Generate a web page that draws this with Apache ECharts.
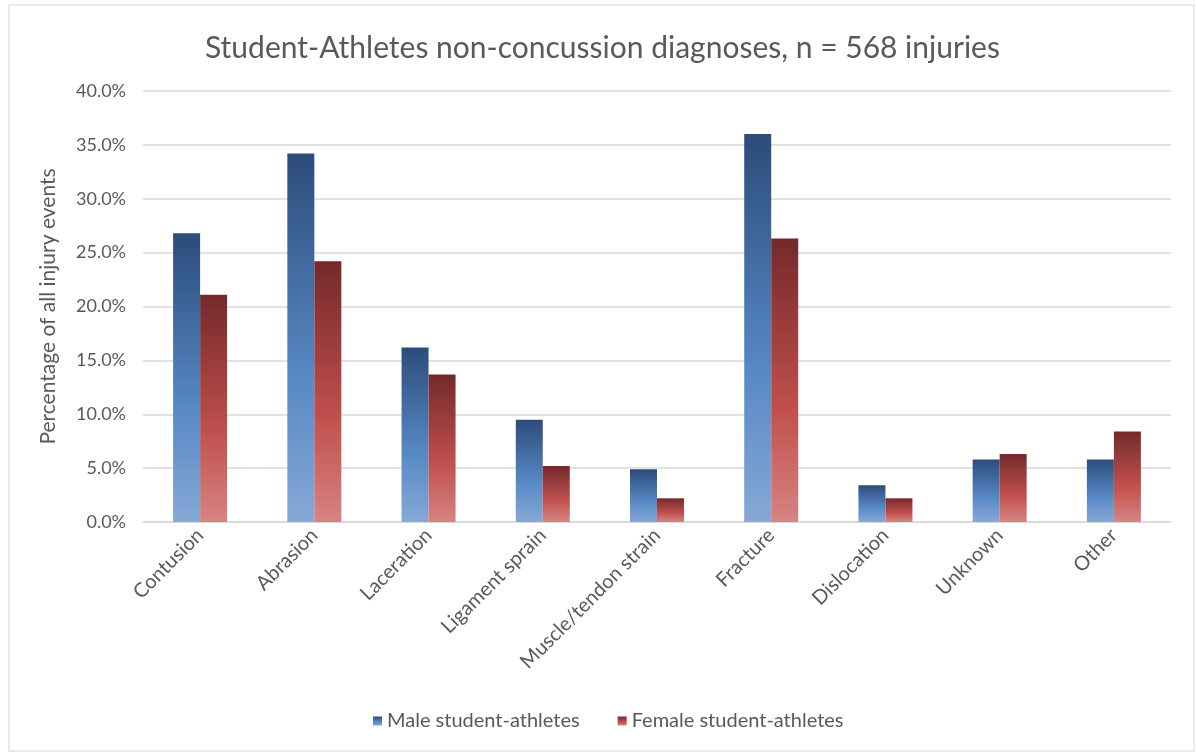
<!DOCTYPE html>
<html>
<head>
<meta charset="utf-8">
<script src="https://cdn.jsdelivr.net/npm/echarts@6/dist/echarts.min.js"></script>
<style>
  html, body { margin: 0; padding: 0; background: #ffffff; }
  #chart { width: 1196px; height: 753px; }
</style>
</head>
<body>
<div id="chart"></div>
<script>
// Injury diagnoses by category, share of all injury events (%)
const categories = ['Contusion', 'Abrasion', 'Laceration', 'Ligament sprain', 'Muscle/tendon strain',
                    'Fracture', 'Dislocation', 'Unknown', 'Other'];
const maleValues   = [26.8, 34.2, 16.2, 9.5, 4.9, 36.0, 3.4, 5.8, 5.8];
const femaleValues = [21.1, 24.2, 13.7, 5.2, 2.2, 26.3, 2.2, 6.3, 8.4];
const seriesNames  = ['Male student-athletes', 'Female student-athletes'];
const yTicks = { min: 0, max: 40, interval: 5 };

const FONT = 'Lato, "Open Sans", "Liberation Sans", sans-serif';
const TEXT = '#595959';

function grad(top, mid, bottom) {
  return new echarts.graphic.LinearGradient(0, 0, 0, 1, [
    { offset: 0, color: top },
    { offset: 0.6, color: mid },
    { offset: 1, color: bottom }
  ]);
}

const chart = echarts.init(document.getElementById('chart'), null, { renderer: 'canvas' });

chart.setOption({
  backgroundColor: '#ffffff',
  animation: false,
  title: {
    text: 'Student-Athletes non-concussion diagnoses, n = 568 injuries',
    left: 200,
    top: 28,
    textStyle: { fontFamily: FONT, fontSize: 30, fontWeight: 'normal', color: TEXT }
  },
  graphic: [{
    type: 'rect',
    shape: { x: 9, y: 5, width: 1185, height: 746 },
    style: { fill: 'none', stroke: '#e3e3e3', lineWidth: 1.5 },
    silent: true
  }],
  legend: {
    top: 706,
    left: 368,
    itemWidth: 9,
    itemHeight: 9,
    itemGap: 38,
    icon: 'rect',
    textStyle: { fontFamily: FONT, fontSize: 20, color: TEXT },
    data: seriesNames
  },
  grid: { left: 143, right: 25, top: 91, bottom: 231, containLabel: false },
  xAxis: {
    type: 'category',
    data: categories,
    axisLine: { show: true, lineStyle: { color: '#d9d9d9', width: 1.5 } },
    axisTick: { show: false },
    axisLabel: {
      rotate: 45, interval: 0, margin: 10,
      fontFamily: FONT, fontSize: 20, color: TEXT
    }
  },
  yAxis: {
    type: 'value',
    min: yTicks.min, max: yTicks.max, interval: yTicks.interval,
    name: 'Percentage of all injury events',
    nameLocation: 'middle',
    nameGap: 84,
    nameTextStyle: { fontFamily: FONT, fontSize: 21, color: TEXT },
    axisLine: { show: false },
    axisTick: { show: false },
    axisLabel: {
      margin: 17,
      fontFamily: FONT, fontSize: 18, color: TEXT,
      formatter: v => v.toFixed(1) + '%'
    },
    splitLine: { lineStyle: { color: '#d9d9d9', width: 1.5 } }
  },
  series: [
    {
      name: seriesNames[0],
      type: 'bar',
      data: maleValues,
      barWidth: 27,
      barGap: '0%',
      itemStyle: { color: grad('#2c4c7a', '#5688c4', '#86a8d6') }
    },
    {
      name: seriesNames[1],
      type: 'bar',
      data: femaleValues,
      barWidth: 27,
      barGap: '0%',
      itemStyle: { color: grad('#74292b', '#c0504d', '#d68482') }
    }
  ]
});
</script>
</body>
</html>
